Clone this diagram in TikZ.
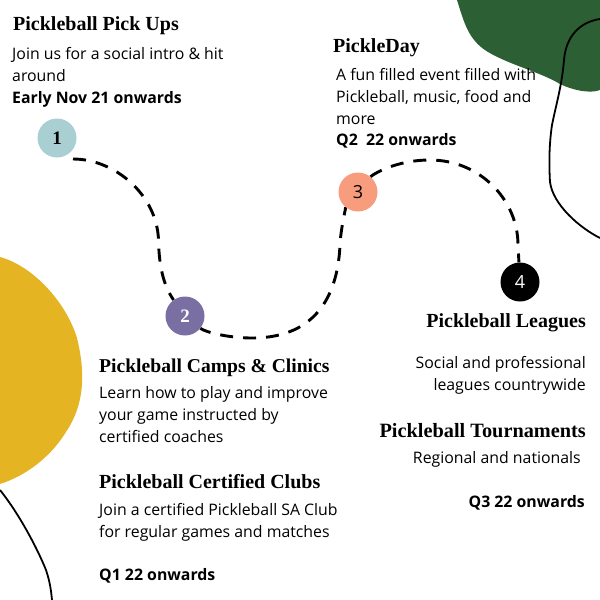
\documentclass[tikz,border=0pt]{standalone}
\usepackage{fontspec}
\setmainfont{Open Sans}
\newfontfamily\headfont{Liberation Serif}[BoldFont={Liberation Serif Bold}]
\usetikzlibrary{backgrounds}
\definecolor{blobgreen}{RGB}{44,95,52}
\definecolor{blobyellow}{RGB}{228,180,34}
\definecolor{dotone}{RGB}{170,207,210}
\definecolor{dottwo}{RGB}{122,111,163}
\definecolor{dotthree}{RGB}{247,156,124}
\tikzset{
  x=1pt,y=-1pt,
  headw/.style={anchor=base west,inner sep=0pt,font=\headfont\bfseries\fontsize{20}{22}\selectfont},
  heade/.style={anchor=base east,inner sep=0pt,font=\headfont\bfseries\fontsize{20}{22}\selectfont},
  bodyw/.style={anchor=base west,inner sep=0pt,align=left,font=\fontsize{15.85}{21.7}\selectfont},
  bodye/.style={anchor=base east,inner sep=0pt,align=right,font=\fontsize{15.85}{21.7}\selectfont},
  datew/.style={anchor=base west,inner sep=0pt,font=\bfseries\fontsize{15.85}{21.7}\selectfont},
  datee/.style={anchor=base east,inner sep=0pt,font=\bfseries\fontsize{15.85}{21.7}\selectfont},
  stepdot/.style={circle,minimum size=39pt,inner sep=0pt,font=\fontsize{18}{20}\selectfont},
  serifnum/.style={font=\headfont\bfseries\fontsize{19}{20}\selectfont},
  trail/.style={line width=2.9pt,dash pattern=on 13pt off 10pt,black},
  wire/.style={line width=1.8pt,black}
}
\begin{document}
\begin{tikzpicture}
\useasboundingbox (0,0) rectangle (600,600);
% nodes
\node[stepdot,serifnum,fill=dotone] (n1) at (57,138) {1};
\node[stepdot,serifnum,fill=dottwo,text=white] (n2) at (185,316) {2};
\node[stepdot,fill=dotthree] (n3) at (358,192) {3};
\node[stepdot,fill=black,text=white] (n4) at (520,282) {4};
\coordinate (t1) at (73,159);
\begin{pgfonlayer}{background}
\fill[white] (0,0) rectangle (600,600);
\fill[blobgreen] (457,0) .. controls (464,22) and (468,40) .. (488,52)
  .. controls (510,65) and (540,72) .. (560,84) .. controls (572,90) and (590,94) .. (600,90) -- (600,0) -- cycle;
\fill[blobyellow] (0,257) .. controls (33,266) and (66,302) .. (77,338)
  .. controls (86,375) and (84,405) .. (66,432) .. controls (50,458) and (25,476) .. (0,484) -- cycle;
\draw[wire] (600,19) .. controls (580,22) and (566,36) .. (564,60) .. controls (562,85) and (556,105) .. (552,125)
  .. controls (549,145) and (549,165) .. (550,182) .. controls (553,205) and (580,228) .. (600,238);
\draw[wire] (0,490) .. controls (20,515) and (38,550) .. (46,570) .. controls (50,582) and (51,590) .. (52,600);
\draw[trail] (t1) .. controls (115,159) and (157,195) .. (158.5,240) .. controls (159,265) and (163,285) .. (n2);
\draw[trail,dash phase=2pt] (n2) .. controls (205,332) and (228,338) .. (252,338) .. controls (320,338) and (338,290) .. (340,245) .. controls (341,225) and (347,205) .. (n3);
\draw[trail] (n3) .. controls (372,175) and (395,160) .. (430,160) .. controls (480,160) and (518,200) .. (518,245) -- (n4);
\end{pgfonlayer}
% text
\node[headw] (h1) at (13,30) {Pickleball Pick Ups};
\node[bodyw] (b1) at (12,81) {Join us for a social intro \& hit\\around};
\node[datew] (d1) at (12,103) {Early Nov 21 onwards};
\node[headw] (h3) at (333,52) {PickleDay};
\node[bodyw] (b3) at (336,124) {A fun filled event filled with\\Pickleball, music, food and\\more};
\node[datew] (d3) at (336,145) {Q2\ \ 22 onwards};
\node[headw,font=\headfont\bfseries\fontsize{19.6}{22}\selectfont] (h2) at (99,372) {Pickleball Camps \& Clinics};
\node[bodyw] (b2) at (99,442) {Learn how to play and improve\\your game instructed by\\certified coaches};
\node[headw] (h2b) at (99,488) {Pickleball Certified Clubs};
\node[bodyw] (b2b) at (99,537) {Join a certified Pickleball SA Club\\for regular games and matches};
\node[datew] (d2) at (99,580) {Q1 22 onwards};
\node[heade] (h4) at (586,327) {Pickleball Leagues};
\node[bodye] (b4) at (586,390) {Social and professional\\leagues countrywide};
\node[heade,font=\headfont\bfseries\fontsize{20.3}{22}\selectfont] (h4b) at (586,437) {Pickleball Tournaments};
\node[bodye] (b4b) at (581,463) {Regional and nationals};
\node[datee] (d4) at (585,507) {Q3 22 onwards};
\end{tikzpicture}
\end{document}
